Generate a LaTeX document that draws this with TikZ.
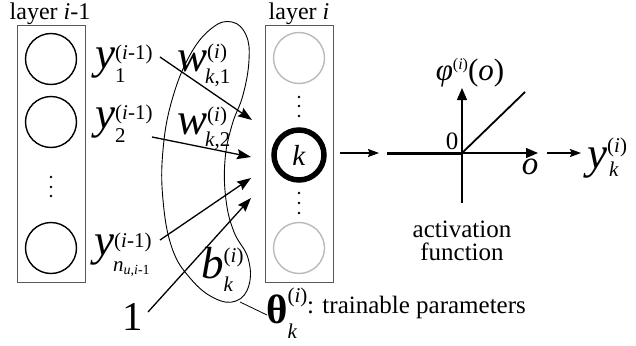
\documentclass[tikz,border=0pt]{standalone}
\usepackage{fontspec}
\setmainfont{Liberation Serif}
\usetikzlibrary{arrows.meta}
\newcommand\scf{\fontsize{21}{22}\selectfont}
\newcommand\bigf{\fontsize{45}{48}\selectfont}
% main, sup, sub, raise, drop, subkern
\newcommand\SupSub[6]{{#1}\rlap{\raisebox{#4pt}{\scf #2}}\rlap{\hspace*{#6pt}\raisebox{-#5pt}{\scf #3}}}
\tikzset{
  lbl/.style={inner sep=0pt, anchor=base west, font=\bigf},
  txt/.style={inner sep=0pt, font=\fontsize{25}{25}\selectfont},
  box/.style={draw=black!65, line width=0.9pt},
  neur/.style={circle, draw, line width=1.4pt, minimum size=51pt, inner sep=0pt},
  gneur/.style={neur, draw=black!27},
  kneur/.style={circle, draw, line width=5.5pt, minimum size=50pt, inner sep=0pt, font=\fontsize{29}{29}\selectfont},
  inarr/.style={line width=1.3pt, -{Stealth[length=14pt,width=10pt,inset=2pt]}},
  smarr/.style={line width=1.2pt, -{Stealth[length=11pt,width=8pt,inset=1.5pt]}},
  axarr/.style={line width=1.2pt, -{Triangle[length=12pt,width=10pt]}},
  dotf/.style={fill, radius=1.4pt}
}
\begin{document}
\begin{tikzpicture}[x=1pt,y=-1pt]
\useasboundingbox (0,0) rectangle (636,345);
% layer boxes
\node[txt, anchor=base, font=\fontsize{24}{24}\selectfont] (lab1) at (50,20) {layer \textit{i}-1};
\node[txt, anchor=base, font=\fontsize{24}{24}\selectfont] (lab2) at (299,20) {layer \textit{i}};
\draw[box] (17,25) rectangle (85,282);
\draw[box] (265,25) rectangle (333,282);
% left neurons
\node[neur] (n1) at (51,59) {};
\node[neur] (n2) at (51,122) {};
\node[neur] (n3) at (51,248) {};
\fill[dotf] (51,177) circle; \fill[dotf] (51,187) circle; \fill[dotf] (51,196) circle;
% right neurons
\node[gneur] (g1) at (299,58) {};
\node[kneur] (k) at (299,155) {\textit{k}};
\node[gneur] (g2) at (299,248) {};
\fill[dotf] (299,97) circle; \fill[dotf] (299,106) circle; \fill[dotf] (299,116) circle;
\fill[dotf] (299,193) circle; \fill[dotf] (299,203) circle; \fill[dotf] (299,213) circle;
% blob
\draw[line width=0.9pt] plot[smooth cycle, tension=0.7] coordinates {
 (232,22) (246,35) (249,60) (243,95) (232,125) (225,160) (226,200) (234,232)
 (248,258) (249,285) (236,301) (214,298) (190,278) (172,248) (163,200)
 (163,150) (172,100) (190,55) (212,28)};
% labels
\node[lbl] (y1) at (95,68) {\SupSub{\textit{y}}{(\textit{i}-1)}{1}{9}{14}{0}};
\node[lbl] (y2) at (95,128) {\SupSub{\textit{y}}{(\textit{i}-1)}{2}{9}{14}{0}};
\node[lbl] (yn) at (94,255) {\SupSub{\textit{y}}{(\textit{i}-1)}{\textit{n}\raisebox{-3pt}{\fontsize{14}{14}\selectfont\textit{u},\textit{i}-1}}{8}{16}{-1}};
\node[lbl] (w1) at (177,71) {\SupSub{\textit{w}}{(\textit{i})}{\textit{k},1}{13}{12}{-2}};
\node[lbl] (w2) at (177,134) {\SupSub{\textit{w}}{(\textit{i})}{\textit{k},2}{13}{12}{-2}};
\node[lbl] (bk) at (201,278) {\SupSub{\textit{b}}{(\textit{i})}{\textit{k}}{16}{13}{0}};
\node[lbl] (one) at (122,330) {\fontsize{41}{44}\selectfont 1};
\node[lbl] (th) at (266,323) {\SupSub{\fontsize{41}{44}\selectfont\bfseries θ}{(\textit{i})}{\textit{k}}{21}{15}{0}};
\node[txt, anchor=base west] (tp) at (307,313) {: trainable parameters};
% input arrows
\coordinate (s1) at (160,57);  \coordinate (e1) at (252,120);
\coordinate (s2) at (152,137); \coordinate (e2) at (251,157);
\coordinate (s3) at (160,240); \coordinate (e3) at (251,178);
\coordinate (s4) at (148,312); \coordinate (e4) at (251,198);
\draw[inarr] (s1) -- (e1);
\draw[inarr] (s2) -- (e2);
\draw[inarr] (s3) -- (e3);
\draw[inarr] (s4) -- (e4);
% theta connector
\coordinate (bl) at (240,302); \coordinate (tl) at (267,315);
\draw[line width=0.8pt] (bl) -- (tl);
% activation plot
\coordinate (o) at (462,153);
\coordinate (xl) at (387,153); \coordinate (xr) at (538,153);
\coordinate (yb) at (462,203); \coordinate (yt) at (462,88);
\coordinate (rl) at (525,92);
\draw[axarr] (yb) -- (yt);
\draw[axarr] (o) -- (xr);
\draw[line width=3pt] (xl) -- (o);
\draw[line width=1.8pt] (o) -- (rl);
\node[inner sep=0pt, font=\fontsize{25}{25}\selectfont] (zero) at (452,141) {0};
\node[inner sep=0pt, font=\fontsize{33}{33}\selectfont] (ox) at (530,167) {\textit{o}};
\node[inner sep=0pt, font=\fontsize{31}{31}\selectfont] (phi) at (470,73) {\textit{φ}\raisebox{11pt}{\fontsize{16}{16}\selectfont(\textit{i})}(\textit{o})};
\node[txt, align=center] (act) at (462,241) {activation\\[-2pt]function};
% k -> plot -> y
\coordinate (a1) at (340,153); \coordinate (a2) at (379,153);
\coordinate (b1) at (547,153); \coordinate (b2) at (581,153);
\draw[smarr] (a1) -- (a2);
\draw[smarr] (b1) -- (b2);
\node[lbl] (yk) at (587,168) {\SupSub{\textit{y}}{(\textit{i})}{\textit{k}}{16}{8}{2}};
\end{tikzpicture}
\end{document}
